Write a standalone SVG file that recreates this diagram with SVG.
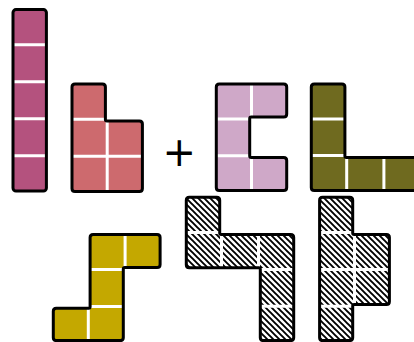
<svg xmlns="http://www.w3.org/2000/svg" xmlns:xlink="http://www.w3.org/1999/xlink" width="414" height="342" viewBox="0 0 414 342">
<style>
.sep{stroke:#ffffff;stroke-width:3;fill:none}
.out{fill:none;stroke:#000;stroke-width:3;stroke-linejoin:round}
.op{font-family:"DejaVu Sans",sans-serif;font-size:40px;fill:#000}
</style>
<defs>
<pattern id="hatch" patternUnits="userSpaceOnUse" width="6" height="6">
<rect width="6" height="6" fill="#fff"/>
<path d="M-1,-1 L7,7 M-1,5 L1,7 M5,-1 L7,1" stroke="#000" stroke-width="1.9"/>
</pattern>
<rect id="pI" x="13" y="9.6" width="33.4" height="181.4" rx="3"/>
<path id="pS" d="M72,87 Q72,84 75,84 H102.4 Q105.4,84 105.4,87 V119.5 Q105.4,121 106.9,121 H139.4 Q142.4,121 142.4,124 V188.4 Q142.4,191.4 139.4,191.4 H75 Q72,191.4 72,188.4 Z"/>
<path id="pC" d="M216.3,87 Q216.3,84 219.3,84 H283.7 Q286.7,84 286.7,87 V114.1 Q286.7,117.1 283.7,117.1 H251.2 Q249.7,117.1 249.7,118.6 V156.1 Q249.7,157.6 251.2,157.6 H283.7 Q286.7,157.6 286.7,160.6 V187.4 Q286.7,190.4 283.7,190.4 H219.3 Q216.3,190.4 216.3,187.4 Z"/>
<path id="pL" d="M311.3,87 Q311.3,84 314.3,84 H341.9 Q344.9,84 344.9,87 V155.9 Q344.9,157.4 346.4,157.4 H416.3 Q419.3,157.4 419.3,160.4 V187.4 Q419.3,190.4 416.3,190.4 H314.3 Q311.3,190.4 311.3,187.4 Z"/>
<path id="pZ" d="M90.1,237.4 Q90.1,234.4 93.1,234.4 H157.1 Q160.1,234.4 160.1,237.4 V264.6 Q160.1,267.6 157.1,267.6 H124.8 Q123.3,267.6 123.3,269.1 V337.6 Q123.3,340.6 120.3,340.6 H56.3 Q53.3,340.6 53.3,337.6 V311.2 Q53.3,308.2 56.3,308.2 H88.6 Q90.1,308.2 90.1,306.7 Z"/>
<path id="pA" d="M186.3,200.2 Q186.3,197.2 189.3,197.2 H216.7 Q219.7,197.2 219.7,200.2 V232.9 Q219.7,234.4 221.2,234.4 H290.7 Q293.7,234.4 293.7,237.4 V337.6 Q293.7,340.6 290.7,340.6 H263.3 Q260.3,340.6 260.3,337.6 V269.3 Q260.3,267.8 258.8,267.8 H189.3 Q186.3,267.8 186.3,264.8 Z"/>
<path id="pB" d="M319.6,200.2 Q319.6,197.2 322.6,197.2 H349.7 Q352.7,197.2 352.7,200.2 V232.9 Q352.7,234.4 354.2,234.4 H386.4 Q389.4,234.4 389.4,237.4 V301.4 Q389.4,304.4 386.4,304.4 H354.2 Q352.7,304.4 352.7,305.9 V337.6 Q352.7,340.6 349.7,340.6 H322.6 Q319.6,340.6 319.6,337.6 Z"/>
</defs>
<rect width="414" height="342" fill="#fff"/>

<g id="piece-I">
<use xlink:href="#pI" href="#pI" fill="#b4527e"/>
<path class="sep" d="M13,44.8 H46.4 M13,81.8 H46.4 M13,118.8 H46.4 M13,155.8 H46.4"/>
<use xlink:href="#pI" href="#pI" class="out"/>
</g>

<g id="piece-P">
<use xlink:href="#pS" href="#pS" fill="#cd6a6e"/>
<path class="sep" d="M107.2,121 V191.4 M72,119.2 H105.4 M72,156.2 H142.4"/>
<use xlink:href="#pS" href="#pS" class="out"/>
</g>

<g id="plus">
<text class="op" x="179.2" y="166" text-anchor="middle">+</text>
</g>

<g id="piece-U">
<use xlink:href="#pC" href="#pC" fill="#cfa8c8"/>
<path class="sep" d="M251.5,84 V117.1 M251.5,157.6 V190.4 M216.3,118.9 H249.7 M216.3,155.8 H249.7"/>
<use xlink:href="#pC" href="#pC" class="out"/>
</g>

<g id="piece-L">
<use xlink:href="#pL" href="#pL" fill="#6f6a1f"/>
<path class="sep" d="M311.3,118.9 H344.9 M311.3,155.6 H346.7 M346.7,155.6 V190.4 M383.9,157.4 V190.4"/>
<use xlink:href="#pL" href="#pL" class="out"/>
</g>

<g id="piece-S">
<use xlink:href="#pZ" href="#pZ" fill="#c4a800"/>
<path class="sep" d="M125.1,234.4 V267.6 M90.1,269.4 H123.3 M90.1,306.4 H123.3 M88.3,308.2 V340.6"/>
<use xlink:href="#pZ" href="#pZ" class="out"/>
</g>

<g id="hatched-A">
<use xlink:href="#pA" href="#pA" fill="url(#hatch)"/>
<path class="sep" d="M186.3,232.6 H219.7 M221.5,234.4 V267.8 M258.5,234.4 V267.8 M260.3,269.6 H293.7 M260.3,306.2 H293.7"/>
<use xlink:href="#pA" href="#pA" class="out"/>
</g>

<g id="hatched-B">
<use xlink:href="#pB" href="#pB" fill="url(#hatch)"/>
<path class="sep" d="M319.6,232.6 H352.7 M319.6,269.6 H389.4 M319.6,306.2 H352.7 M354.5,234.4 V304.4"/>
<use xlink:href="#pB" href="#pB" class="out"/>
</g>
</svg>
